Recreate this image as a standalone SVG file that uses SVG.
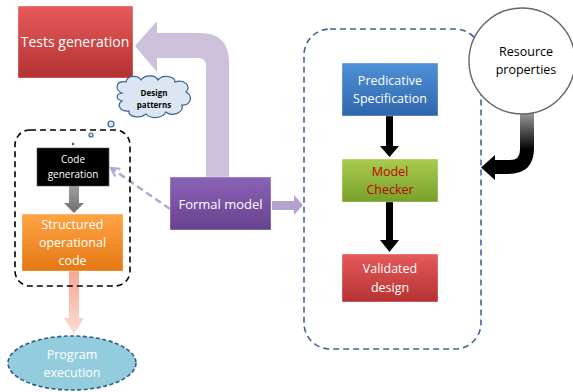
<svg xmlns="http://www.w3.org/2000/svg" width="573" height="392" viewBox="0 0 573 392">
<defs>
<linearGradient id="gRed" x1="0" y1="0" x2="0" y2="1"><stop offset="0" stop-color="#E65A5A"/><stop offset="1" stop-color="#B53232"/></linearGradient>
<linearGradient id="gBlue" x1="0" y1="0" x2="0" y2="1"><stop offset="0" stop-color="#4F90D8"/><stop offset="1" stop-color="#2F67AC"/></linearGradient>
<linearGradient id="gGreen" x1="0" y1="0" x2="0" y2="1"><stop offset="0" stop-color="#A9CC4E"/><stop offset="1" stop-color="#77A02B"/></linearGradient>
<linearGradient id="gOrange" x1="0" y1="0" x2="0" y2="1"><stop offset="0" stop-color="#FFA446"/><stop offset="1" stop-color="#E47712"/></linearGradient>
<linearGradient id="gPurple" x1="0" y1="0" x2="0" y2="1"><stop offset="0" stop-color="#8B63B6"/><stop offset="1" stop-color="#67428F"/></linearGradient>
<linearGradient id="gPink" x1="0" y1="0" x2="0" y2="1"><stop offset="0" stop-color="#F7A593"/><stop offset="1" stop-color="#FFDCD3"/></linearGradient>
<linearGradient id="gBlk" x1="0" y1="113" x2="0" y2="150" gradientUnits="userSpaceOnUse"><stop offset="0" stop-color="#9A9A9A"/><stop offset="1" stop-color="#000"/></linearGradient>
<linearGradient id="gGray" x1="0" y1="0" x2="0" y2="1"><stop offset="0" stop-color="#A0A0A0"/><stop offset="1" stop-color="#6E6E6E"/></linearGradient>
<marker id="openHead" viewBox="0 0 12 12" refX="10" refY="6" markerWidth="11" markerHeight="11" orient="auto" markerUnits="userSpaceOnUse">
<path d="M1,1 L10,6 L1,11" fill="none" stroke="#B4A7D6" stroke-width="2.4"/>
</marker>
</defs>
<style>
.t{font-family:"Open Sans","Liberation Sans",sans-serif;fill:#fff;text-anchor:middle;}
.box{stroke:#fff;stroke-opacity:0.6;stroke-width:0.6;}
</style>
<rect width="573" height="392" fill="#fff"/>

<g id="connectors">
<path d="M206 177 L206 66 Q206 58 198 58 L157 58 L157 72 L135 46 L157 21 L157 33 L200 33 Q229 33 229 62 L229 177 Z" fill="#CCC0DA"/>
<path d="M272 201 L294 201 L294 195 L303 205 L294 215 L294 210 L272 210 Z" fill="#B4A3CE"/>
<line x1="170" y1="209" x2="111" y2="168" stroke="#B4A7D6" stroke-width="2.5" stroke-dasharray="7,4" marker-end="url(#openHead)"/>
<path d="M69 186 L79 186 L79 203 L84 203 L74 213 L64 203 L69 203 Z" fill="url(#gGray)"/>
<path d="M69 271 L79 271 L79 318 L84 318 L74 334 L64 318 L69 318 Z" fill="url(#gPink)"/>
<path d="M386 116 L393 116 L393 146 L399 146 L389.5 157 L380 146 L386 146 Z" fill="#000"/>
<path d="M386 202 L393 202 L393 240 L399 240 L389.5 252 L380 240 L386 240 Z" fill="#000"/>
<path d="M520 113 L520 150 Q520 160 510 160 L495 160 L495 155 L481 167.5 L495 180 L495 174 L508 174 Q534 174 534 148 L534 113 Z" fill="url(#gBlk)"/>
</g>

<g id="leftGroup">
<rect x="15" y="130" width="115" height="156" rx="15" fill="none" stroke="#000" stroke-width="1.6" stroke-dasharray="6,4"/>
</g>
<g id="rightGroup">
<rect x="304" y="29" width="177" height="320" rx="26" fill="none" stroke="#41669A" stroke-width="1.6" stroke-dasharray="6,4"/>
</g>

<g id="tests">
<rect class="box" x="18" y="6" width="115" height="72" fill="url(#gRed)"/>
<text class="t" x="75" y="47" font-size="14">Tests generation</text>
</g>

<g id="designPatterns">
<path d="M122 93 C114 90 116 80 126 82 C127 75 138 75 141 80 C145 74 156 75 158 80 C162 74 175 76 175 82 C184 79 192 86 186 92 C194 96 190 106 182 105 C184 113 172 117 166 112 C162 119 150 119 146 114 C140 119 128 117 129 111 C120 112 116 104 122 101 C115 99 116 94 122 93 Z" fill="#DCE6F2" stroke="#376092" stroke-width="1.2"/>
<circle cx="111" cy="124" r="3" fill="#DCE6F2" stroke="#376092" stroke-width="1.2"/>
<circle cx="91" cy="135" r="2" fill="#DCE6F2" stroke="#376092" stroke-width="1.2"/>
<circle cx="73" cy="144" r="1.3" fill="#376092"/>
<text class="t" x="154" y="96" font-size="8" font-weight="bold" style="fill:#000">Design</text>
<text class="t" x="154" y="108" font-size="8" font-weight="bold" style="fill:#000">patterns</text>
</g>

<g id="codeGen">
<rect x="37" y="148" width="72" height="38" fill="#000" stroke="#555" stroke-width="0.6"/>
<text class="t" x="73" y="163" font-size="10">Code</text>
<text class="t" x="73" y="178" font-size="10">generation</text>
</g>

<g id="structured">
<rect class="box" x="22" y="214" width="101" height="57" fill="url(#gOrange)"/>
<text class="t" x="72.5" y="229" font-size="12.5">Structured</text>
<text class="t" x="72.5" y="247" font-size="12.5">operational</text>
<text class="t" x="72.5" y="265" font-size="12.5">code</text>
</g>

<g id="program">
<ellipse cx="72" cy="363" rx="64" ry="27" fill="#93CDDD" stroke="#2F5A8C" stroke-width="1.6" stroke-dasharray="4,2.5"/>
<text class="t" x="72" y="359" font-size="12.5">Program</text>
<text class="t" x="72" y="377" font-size="12.5">execution</text>
</g>

<g id="formal">
<rect class="box" x="170" y="177" width="101" height="53" fill="url(#gPurple)"/>
<text class="t" x="220.5" y="209" font-size="13">Formal model</text>
</g>

<g id="predicative">
<rect class="box" x="342" y="63" width="96" height="53" fill="url(#gBlue)"/>
<text class="t" x="390" y="85" font-size="12.5">Predicative</text>
<text class="t" x="390" y="103" font-size="12.5">Specification</text>
</g>

<g id="modelChecker">
<rect class="box" x="342" y="159" width="96" height="43" fill="url(#gGreen)"/>
<text class="t" x="390" y="176" font-size="12.5" style="fill:#C00000">Model</text>
<text class="t" x="390" y="194" font-size="12.5" style="fill:#C00000">Checker</text>
</g>

<g id="validated">
<rect class="box" x="342" y="254" width="96" height="48" fill="url(#gRed)"/>
<text class="t" x="390" y="273" font-size="12.5">Validated</text>
<text class="t" x="390" y="292" font-size="12.5">design</text>
</g>

<g id="resource">
<circle cx="522" cy="61" r="53" fill="#fff" stroke="#666" stroke-width="1.4"/>
<text class="t" x="526" y="56" font-size="12.5" style="fill:#000">Resource</text>
<text class="t" x="526" y="74" font-size="12.5" style="fill:#000">properties</text>
</g>
</svg>
